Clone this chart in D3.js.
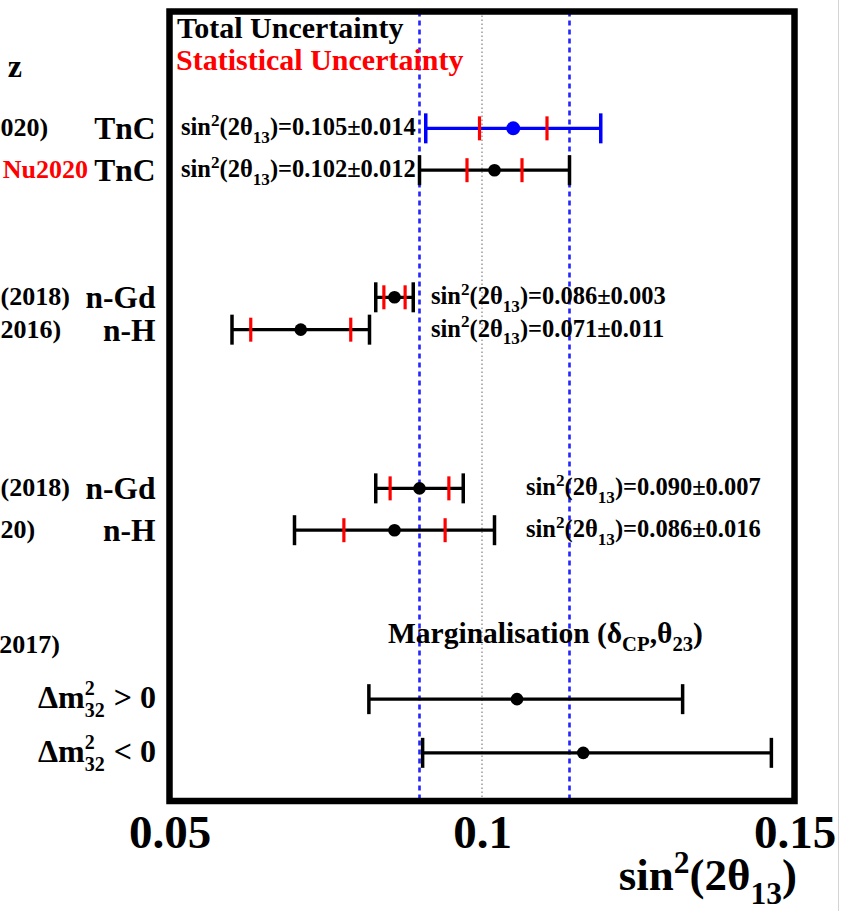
<!DOCTYPE html>
<html>
<head>
<meta charset="utf-8">
<script src="https://cdn.jsdelivr.net/npm/d3@7"></script>
<style>
  html, body { margin: 0; padding: 0; background: #fff; }
  svg { display: block; }
</style>
</head>
<body>
<script>
// sin^2(2θ13) measurements: central value, total (black/blue) and statistical (red) errors
const centralValues = [0.105, 0.102, 0.086, 0.071, 0.090, 0.086, 0.1056, 0.1162];
const totalErrLow   = [0.014, 0.012, 0.003, 0.011, 0.007, 0.016, 0.0237, 0.0257];
const totalErrHigh  = [0.014, 0.012, 0.003, 0.011, 0.007, 0.016, 0.0265, 0.0301];
const statErr       = [0.0054, 0.0044, 0.0017, 0.008, 0.0047, 0.0081, null, null];
// vertical slot of each measurement on the (hidden) y axis
const rowSlot       = [85.2, 79.9, 63.8, 59.7, 39.6, 34.3, 12.9, 6.1];
// analysis labels to the left of the frame
const rowLabels     = ["TnC", "TnC", "n-Gd", "n-H", "n-Gd", "n-H"];
const sourceLabels  = ["020)", "Nu2020", "(2018)", "2016)", "(2018)", "20)"];
// value annotations shown for the first six rows
const annotatedRows = [0, 1, 2, 3, 4, 5];
// reference band (blue dashed lines)
const bandLimits    = [0.090, 0.114];
const refValue      = 0.1;
const xTicks        = [0.05, 0.1, 0.15];
const orderingSigns = [">", "<"];

const W = 862, H = 911;
const SERIF = "'Liberation Serif', 'Times New Roman', Times, serif";
const frame = { left: 169.5, right: 794.5, top: 11.5, bottom: 801 };

const svg = d3.select("body").append("svg").attr("width", W).attr("height", H);
svg.append("rect").attr("width", W).attr("height", H).attr("fill", "#fff");

const x = d3.scaleLinear().domain([0.05, 0.15]).range([frame.left, frame.right]);
const y = d3.scaleLinear().domain([0, 100]).range([frame.bottom, frame.top]);

function boldText(parent, px, py, size, str, color) {
  return parent.append("text").attr("x", px).attr("y", py)
    .attr("font-family", SERIF).attr("font-weight", "bold")
    .attr("font-size", size).attr("fill", color || "#000").text(str);
}

// text built from tspans, with raised / lowered pieces
function rich(parent, px, py, parts, opts) {
  const t = parent.append("text")
    .attr("x", px).attr("y", py)
    .attr("font-family", SERIF).attr("font-weight", "bold")
    .attr("font-size", opts.size).attr("fill", opts.color || "#000");
  let cur = 0;
  parts.forEach(p => {
    const s = t.append("tspan").text(p.t);
    const target = p.shift || 0;
    const dy = target - cur; cur = target;
    if (dy) s.attr("dy", dy);
    if (p.scale) s.attr("font-size", opts.size * p.scale);
    if (p.color) s.attr("fill", p.color);
  });
  if (opts.anchor === "end") {
    const w = t.node().getBBox().width;
    t.attr("x", px - w);
  }
  return t;
}

function sinParts(size, tail) {
  return [
    { t: "sin" },
    { t: "2", scale: 0.7, shift: -size * 0.38 },
    { t: "(2θ", shift: 0 },
    { t: "13", scale: 0.7, shift: size * 0.3 },
    { t: tail, shift: 0 }
  ];
}

const plot = svg.append("g");

// vertical reference lines
plot.append("line")
  .attr("x1", x(refValue)).attr("x2", x(refValue))
  .attr("y1", frame.top).attr("y2", frame.bottom)
  .attr("stroke", "#8a8a8a").attr("stroke-width", 1.3)
  .attr("stroke-dasharray", "1.5,2.5");

plot.selectAll("line.band").data(bandLimits).join("line")
  .attr("class", "band")
  .attr("x1", d => x(d)).attr("x2", d => x(d))
  .attr("y1", frame.top).attr("y2", frame.bottom)
  .attr("stroke", "#2424ff").attr("stroke-width", 2.6)
  .attr("stroke-dasharray", "5,4");

// error bars
const rows = centralValues.map((v, i) => ({
  v, lo: v - totalErrLow[i], hi: v + totalErrHigh[i], stat: statErr[i], yy: y(rowSlot[i]),
  color: i === 0 ? "#0000ff" : "#000"
}));

const bars = plot.selectAll("g.row").data(rows).join("g").attr("class", "row");
bars.append("line")
  .attr("x1", d => x(d.lo)).attr("x2", d => x(d.hi))
  .attr("y1", d => d.yy).attr("y2", d => d.yy)
  .attr("stroke", d => d.color).attr("stroke-width", 3.2);
bars.each(function (d) {
  const g = d3.select(this);
  [d.lo, d.hi].forEach(e => {
    g.append("line")
      .attr("x1", x(e)).attr("x2", x(e))
      .attr("y1", d.yy - 15).attr("y2", d.yy + 15)
      .attr("stroke", d.color).attr("stroke-width", 3.5);
  });
  if (d.stat != null) {
    [d.v - d.stat, d.v + d.stat].forEach(e => {
      g.append("line")
        .attr("x1", x(e)).attr("x2", x(e))
        .attr("y1", d.yy - 12).attr("y2", d.yy + 12)
        .attr("stroke", "#ff0000").attr("stroke-width", 3.2);
    });
  }
  g.append("circle")
    .attr("cx", x(d.v)).attr("cy", d.yy)
    .attr("r", d.color === "#000" ? 6.3 : 7)
    .attr("fill", d.color);
});

// frame
svg.append("rect")
  .attr("x", frame.left).attr("y", frame.top)
  .attr("width", frame.right - frame.left).attr("height", frame.bottom - frame.top)
  .attr("fill", "none").attr("stroke", "#000").attr("stroke-width", 6.5);

// legend
boldText(svg, 177, 38, 30, "Total Uncertainty", "#000");
boldText(svg, 176, 70, 30, "Statistical Uncertainty", "#ff0000");

// value annotations
const annotX = [181, 181, 431, 431, 526, 526];
annotatedRows.forEach((r, k) => {
  const txt = ")=" + centralValues[r].toFixed(3) + "±" + totalErrLow[r].toFixed(3);
  rich(svg, annotX[k], y(rowSlot[r]) + 7, sinParts(24.5, txt), { size: 24.5 });
});

// marginalisation note
rich(svg, 388, 643, [
  { t: "Marginalisation (δ" },
  { t: "CP", scale: 0.7, shift: 8 },
  { t: ",θ", shift: 0 },
  { t: "23", scale: 0.7, shift: 8 },
  { t: ")", shift: 0 }
], { size: 29.5 });

// left-hand labels
rowLabels.forEach((lab, i) => {
  boldText(svg, 155.5, y(rowSlot[i]) + 11, 31.5, lab).attr("text-anchor", "end");
});
const sourceEnd = [48, 88, 63, 52, 63, 25];
sourceLabels.forEach((lab, i) => {
  const t = boldText(svg, 0, y(rowSlot[i]) + 8, 26, lab, i === 1 ? "#ff0000" : "#000");
  const w = t.node().getComputedTextLength();
  t.attr("x", Math.max(sourceEnd[i] - w, 0.5));
});
boldText(svg, 22, 77, 32, "z").attr("text-anchor", "end");
boldText(svg, 60, 653, 26, "2017)").attr("text-anchor", "end");

// mass-ordering labels: Δm with stacked 2 / 32, then the sign
orderingSigns.forEach((s, k) => {
  const by = y(rowSlot[6 + k]) + 9;
  const tail = boldText(svg, 0, by, 32, s + " 0");
  const tw = tail.node().getComputedTextLength();
  const supSub = 20;
  const sup = boldText(svg, 0, by - 13, supSub, "2");
  const sub = boldText(svg, 0, by + 9, supSub, "32");
  const stackW = Math.max(sup.node().getComputedTextLength(), sub.node().getComputedTextLength());
  const head = boldText(svg, 0, by, 32, "Δm");
  const hw = head.node().getComputedTextLength();
  const xEnd = 156;
  const xTail = xEnd - tw, xStack = xTail - stackW - 9, xHead = xStack - hw;
  tail.attr("x", xTail);
  sup.attr("x", xStack);
  sub.attr("x", xStack);
  head.attr("x", xHead);
});

// x axis
const axis = svg.append("g").attr("transform", `translate(0,${frame.bottom})`)
  .call(d3.axisBottom(x).tickValues(xTicks).tickSize(0).tickFormat(d => String(d)));
axis.select(".domain").remove();
axis.selectAll("text")
  .attr("y", 47).attr("dy", 0)
  .attr("font-family", SERIF).attr("font-weight", "bold").attr("font-size", 47)
  .attr("fill", "#000");

rich(svg, 797, 890, sinParts(45, ")"), { size: 45, anchor: "end" });

// page edge line
svg.append("line").attr("x1", 838.5).attr("x2", 838.5).attr("y1", 0).attr("y2", H)
  .attr("stroke", "#d4d4d4").attr("stroke-width", 1);
</script>
</body>
</html>
